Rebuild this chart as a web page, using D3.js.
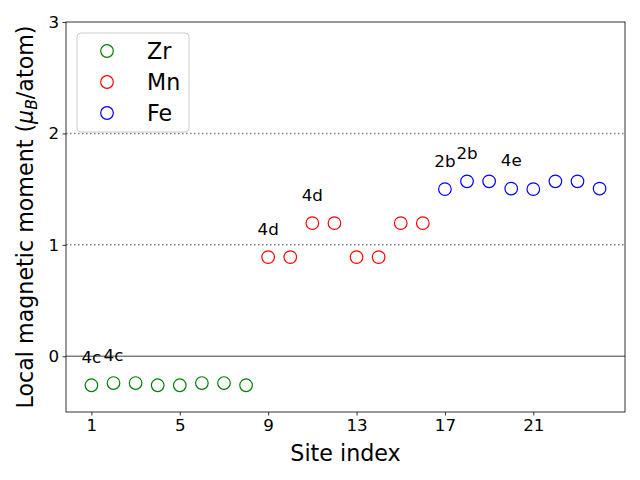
<!DOCTYPE html>
<html><head><meta charset="utf-8">
<script src="https://cdn.jsdelivr.net/npm/d3@7"></script>
<style>body{margin:0;background:#fff}svg{font-family:"DejaVu Sans",sans-serif}</style>
</head><body><svg id="c" width="640" height="480"></svg>
<script>
const zrSites = [1,2,3,4,5,6,7,8];
const zrValues = [-0.26,-0.24,-0.24,-0.26,-0.26,-0.24,-0.24,-0.26];
const mnSites = [9,10,11,12,13,14,15,16];
const mnValues = [0.89,0.89,1.195,1.195,0.89,0.89,1.195,1.195];
const feSites = [17,18,19,20,21,22,23,24];
const feValues = [1.5,1.57,1.57,1.505,1.5,1.57,1.57,1.505];
const seriesNames = ["Zr","Mn","Fe"];
const seriesColors = ["green","red","blue"];
const xTicks = [1,5,9,13,17,21];
const yTicks = [0,1,2,3];
const refLinesDotted = [1,2];
const refLineSolid = [0];
const siteLabels = [
  {site:1,text:"4c",series:0,idx:0},
  {site:2,text:"4c",series:0,idx:1},
  {site:9,text:"4d",series:1,idx:0},
  {site:11,text:"4d",series:1,idx:2},
  {site:17,text:"2b",series:2,idx:0},
  {site:18,text:"2b",series:2,idx:1},
  {site:20,text:"4e",series:2,idx:3}
];
const series = [
  {sites:zrSites, values:zrValues},
  {sites:mnSites, values:mnValues},
  {sites:feSites, values:feValues}
];

const svg = d3.select("#c");
const L=66, R=625, T=22, B=412;
const x = d3.scaleLinear().domain([-0.15,25.15]).range([L,R]);
const y = d3.scaleLinear().domain([-0.5,3]).range([B,T]);

svg.selectAll("line.dot").data(refLinesDotted).enter().append("line")
  .attr("x1",L).attr("x2",R).attr("y1",d=>y(d)).attr("y2",d=>y(d))
  .attr("stroke","#808080").attr("stroke-width",1.5).attr("stroke-dasharray","1.5,2.5");
svg.selectAll("line.sol").data(refLineSolid).enter().append("line")
  .attr("x1",L).attr("x2",R).attr("y1",d=>y(d)).attr("y2",d=>y(d))
  .attr("stroke","#808080").attr("stroke-width",1.5);

series.forEach((s,i)=>{
  svg.append("g").selectAll("circle").data(s.sites).enter().append("circle")
    .attr("cx",d=>x(d)).attr("cy",(d,j)=>y(s.values[j])).attr("r",6.3)
    .attr("fill","none").attr("stroke",seriesColors[i]).attr("stroke-width",1.2);
});

svg.append("g").selectAll("text").data(siteLabels).enter().append("text")
  .attr("x",d=>x(d.site)).attr("y",d=>y(series[d.series].values[d.idx]+0.2))
  .attr("text-anchor","middle").attr("font-size","16.7px").attr("fill","#000").text(d=>d.text);

const xAxis = d3.axisBottom(x).tickValues(xTicks).tickSize(3.5).tickPadding(3.5).tickFormat(d3.format("d"));
const gx = svg.append("g").attr("transform",`translate(0,${B})`).call(xAxis);
const yAxis = d3.axisLeft(y).tickValues(yTicks).tickSize(3.5).tickPadding(3.5).tickFormat(d3.format("d"));
const gy = svg.append("g").attr("transform",`translate(${L},0)`).call(yAxis);
[gx,gy].forEach(g=>{
  g.selectAll("text").attr("font-size","16.7px").attr("font-family","DejaVu Sans").attr("fill","#000");
  g.selectAll("line").attr("stroke","#000").attr("stroke-width",0.8);
  g.select(".domain").remove();
});
svg.append("rect").attr("x",L).attr("y",T).attr("width",R-L).attr("height",B-T)
  .attr("fill","none").attr("stroke","#000").attr("stroke-width",0.8);

svg.append("text").attr("x",(L+R)/2).attr("y",461).attr("text-anchor","middle")
  .attr("font-size","22.2px").text("Site index");
const yl = svg.append("text").attr("transform",`translate(33,${(T+B)/2}) rotate(-90)`)
  .attr("text-anchor","middle").attr("font-size","22.2px");
yl.append("tspan").text("Local magnetic moment (");
yl.append("tspan").attr("font-style","italic").text("μ");
yl.append("tspan").attr("font-style","italic").attr("font-size","15.5px").attr("dy","4").text("B");
yl.append("tspan").attr("dy","-4").text("/atom)");

const lg = svg.append("g");
lg.append("rect").attr("x",77).attr("y",33).attr("width",112).attr("height",99).attr("rx",4)
  .attr("fill","#fff").attr("fill-opacity",0.8).attr("stroke","#cccccc").attr("stroke-width",1);
seriesNames.forEach((n,i)=>{
  const cy = 51 + i*31;
  lg.append("circle").attr("cx",107).attr("cy",cy).attr("r",6.3).attr("fill","none")
    .attr("stroke",seriesColors[i]).attr("stroke-width",1.2);
  lg.append("text").attr("x",147).attr("y",cy+8).attr("font-size","22.2px").text(n);
});
</script></body></html>
